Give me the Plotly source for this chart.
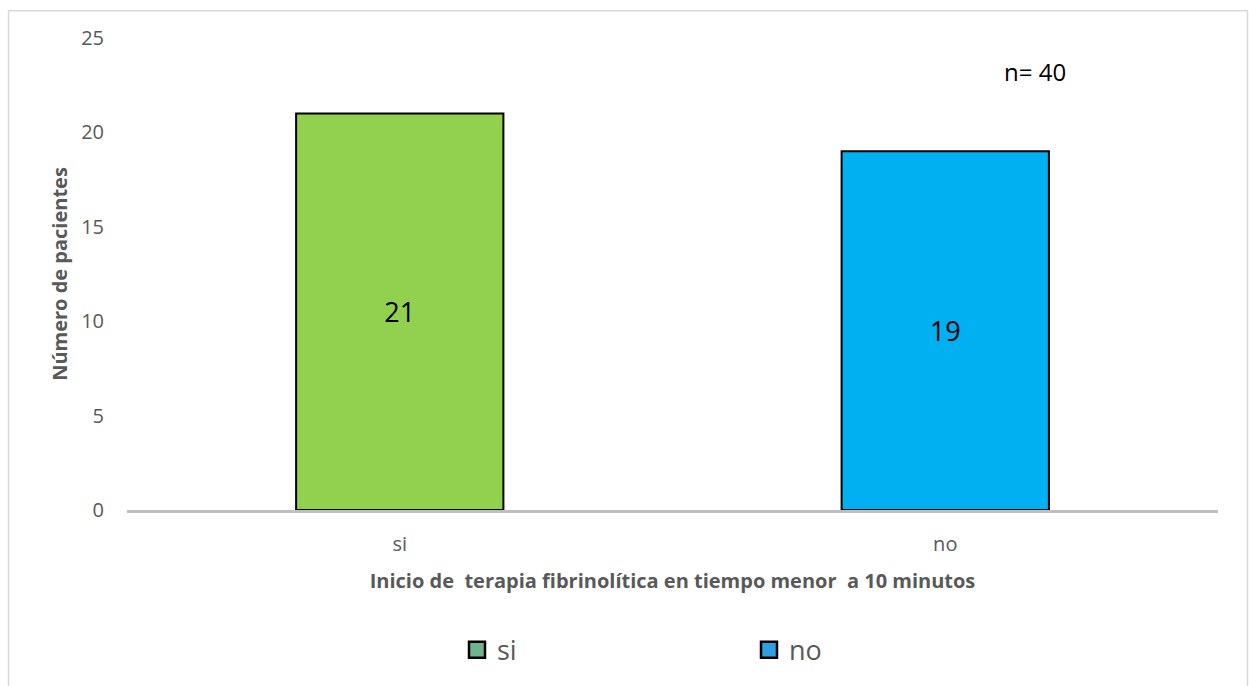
import plotly.graph_objects as go

categories = ["si", "no"]
patients = [21, 19]
bar_colors = ["#92D050", "#00B0F0"]
legend_colors = ["#6FB38F", "#2E9FE0"]
y_ticks = [0, 5, 10, 15, 20, 25]
sample_note = "n= 40"

FONT = "Open Sans, sans-serif"
GREY_TEXT = "#595959"

fig = go.Figure()

# Bars with value labels centred inside
fig.add_trace(go.Bar(
    x=categories,
    y=patients,
    text=[str(v) for v in patients],
    textposition="inside",
    insidetextanchor="middle",
    textfont=dict(size=27, color="#000000", family=FONT),
    marker=dict(color=bar_colors, line=dict(color="#000000", width=2)),
    width=0.38,
    showlegend=False,
    hoverinfo="x+y",
))

# Legend entries drawn as square markers
for name, col in zip(categories, legend_colors):
    fig.add_trace(go.Scatter(
        x=[None], y=[None], name=name, mode="markers",
        marker=dict(symbol="square", size=16, color=col,
                    line=dict(color="#000000", width=2.5)),
        showlegend=True,
    ))

L, R, T, B = 127, 31, 38, 173
W, H = 1249, 686
pw, ph = W - L - R, H - T - B

def px_x(p):
    return (p - L) / pw

def px_y(p):
    return (H - B - p) / ph

fig.update_layout(
    width=W, height=H,
    margin=dict(l=L, r=R, t=T, b=B),
    paper_bgcolor="#FFFFFF",
    plot_bgcolor="#FFFFFF",
    barmode="overlay",
    font=dict(family=FONT, color=GREY_TEXT),
    xaxis=dict(
        type="category",
        categoryorder="array",
        categoryarray=categories,
        showgrid=False,
        showline=True,
        linecolor="#BFBFBF",
        linewidth=3,
        ticks="",
        tickfont=dict(size=20, color=GREY_TEXT),
        ticklabelstandoff=14,
        title=dict(
            text="<b>Inicio de  terapia fibrinolítica en tiempo menor  a 10 minutos</b>",
            font=dict(size=20, color=GREY_TEXT),
            standoff=18,
        ),
    ),
    yaxis=dict(
        range=[0, 25],
        tickvals=y_ticks,
        showgrid=False,
        zeroline=False,
        showline=False,
        ticks="",
        tickfont=dict(size=20, color=GREY_TEXT),
        ticklabelstandoff=22,
        title=dict(
            text="<b>Número de pacientes</b>",
            font=dict(size=20, color=GREY_TEXT),
            standoff=8,
        ),
    ),
    legend=dict(
        orientation="h",
        x=px_x(457), xanchor="left",
        y=px_y(654), yanchor="middle",
        font=dict(size=27, color=GREY_TEXT),
        entrywidth=247, entrywidthmode="pixels",
        itemsizing="trace",
        bgcolor="rgba(0,0,0,0)",
    ),
    annotations=[dict(
        text=sample_note,
        xref="paper", yref="paper",
        x=px_x(1035), y=px_y(72),
        xanchor="center", yanchor="middle",
        showarrow=False,
        font=dict(size=24, color="#000000", family=FONT),
    )],
    shapes=[dict(
        type="rect", xref="paper", yref="paper",
        x0=px_x(8.5), x1=px_x(1247.5),
        y0=px_y(700), y1=px_y(10.5),
        line=dict(color="#D9D9D9", width=1.5),
        fillcolor="rgba(0,0,0,0)",
        layer="below",
    )],
)

fig.write_html("out.html")
